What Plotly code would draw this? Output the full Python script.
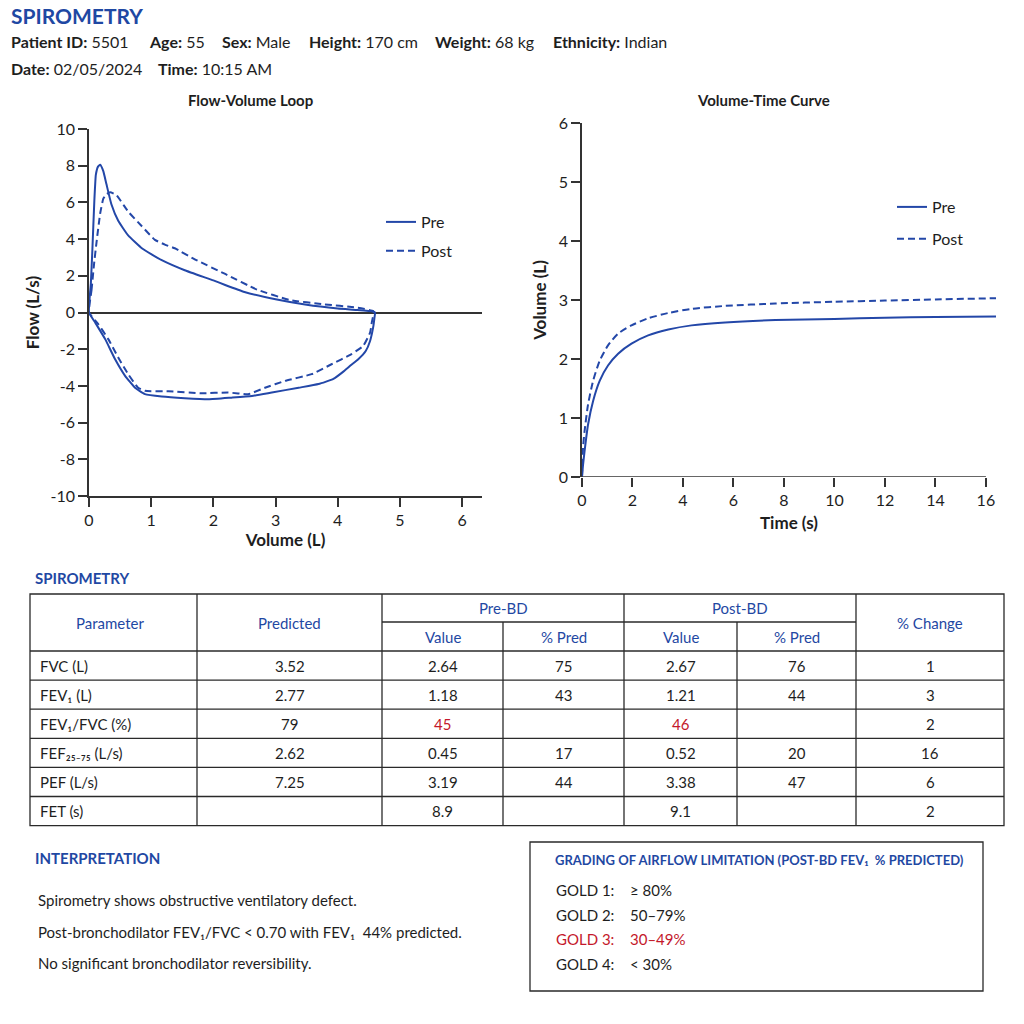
import plotly.graph_objects as go

# ---------------- DATA ----------------
# Flow-volume loop (volume L, flow L/s): expiratory limb, then inspiratory limb back to 0
fv_pre_vol = [0, 0.03, 0.054, 0.086, 0.11, 0.145, 0.18, 0.23, 0.28, 0.36, 0.47, 0.63, 0.85, 1.0, 1.17, 1.54,
              2.0, 2.19, 2.5, 3.0, 3.5, 4.0, 4.3, 4.57, 4.6,
              4.59, 4.57, 4.52, 4.45, 4.33, 4.22, 4.08, 3.93, 3.69, 3.37, 2.94, 2.62, 2.29, 1.92, 1.54, 1.17,
              0.9, 0.74, 0.58, 0.42, 0.26, 0.1, 0]
fv_pre_flow = [0, 1.6, 3.4, 6.1, 7.5, 7.95, 8.05, 7.7, 7.0, 5.9, 5.0, 4.2, 3.5, 3.18, 2.85, 2.3,
               1.75, 1.5, 1.12, 0.72, 0.42, 0.22, 0.14, 0.05, 0.0,
               -0.3, -0.8, -1.55, -2.1, -2.55, -2.85, -3.25, -3.62, -3.9, -4.1, -4.36, -4.55, -4.64, -4.73,
               -4.67, -4.58, -4.45, -4.1, -3.45, -2.55, -1.45, -0.55, 0]
fv_post_vol = [0, 0.04, 0.08, 0.12, 0.18, 0.23, 0.28, 0.34, 0.44, 0.63, 0.85, 1.06, 1.22, 1.38, 1.7, 2.19,
               2.7, 3.23, 3.77, 4.3, 4.57, 4.58,
               4.55, 4.52, 4.41, 4.22, 3.9, 3.58, 3.15, 2.83, 2.56, 2.24, 1.81, 1.28, 0.9, 0.79, 0.63, 0.47,
               0.31, 0.15, 0]
fv_post_flow = [0, 1.2, 2.6, 3.8, 5.4, 6.2, 6.45, 6.55, 6.4, 5.5, 4.7, 3.96, 3.7, 3.5, 2.9, 2.1,
                1.25, 0.68, 0.45, 0.27, 0.08, 0.0,
                -0.5, -1.1, -1.82, -2.27, -2.82, -3.36, -3.73, -4.1, -4.45, -4.36, -4.4, -4.29, -4.27, -4.1,
                -3.36, -2.45, -1.45, -0.64, 0]

# Volume-time curve (time s, volume L)
vt_time = [0, 0.04, 0.1, 0.24, 0.44, 0.7, 1.03, 1.43, 1.96, 2.62, 3.42, 4.34, 5.67, 7.66, 10, 12, 14, 16.4]
vt_pre = [0, 0.2, 0.43, 0.89, 1.29, 1.63, 1.89, 2.09, 2.26, 2.4, 2.5, 2.57, 2.62, 2.66, 2.68, 2.70, 2.71, 2.72]
vt_post = [0, 0.49, 0.77, 1.23, 1.63, 1.97, 2.23, 2.43, 2.57, 2.69, 2.78, 2.85, 2.9, 2.94, 2.97, 2.99, 3.01, 3.03]

fv_x_ticks = [0, 1, 2, 3, 4, 5, 6]
fv_y_ticks = [-10, -8, -6, -4, -2, 0, 2, 4, 6, 8, 10]
vt_x_ticks = [0, 2, 4, 6, 8, 10, 12, 14, 16]
vt_y_ticks = [0, 1, 2, 3, 4, 5, 6]

# Patient info
patient_fields = [("Patient ID:", "5501"), ("Age:", "55"), ("Sex:", "Male"),
                  ("Height:", "170 cm"), ("Weight:", "68 kg"), ("Ethnicity:", "Indian")]
session_fields = [("Date:", "02/05/2024"), ("Time:", "10:15 AM")]

# Results table
parameters = ["FVC (L)", "FEV₁ (L)", "FEV₁/FVC (%)", "FEF₂₅₋₇₅ (L/s)", "PEF (L/s)", "FET (s)"]
predicted = ["3.52", "2.77", "79", "2.62", "7.25", ""]
pre_value = ["2.64", "1.18", "45", "0.45", "3.19", "8.9"]
pre_pct = ["75", "43", "", "17", "44", ""]
post_value = ["2.67", "1.21", "46", "0.52", "3.38", "9.1"]
post_pct = ["76", "44", "", "20", "47", ""]
pct_change = ["1", "3", "2", "16", "6", "2"]
highlight_param = "FEV₁/FVC (%)"

interpretation = ["Spirometry shows obstructive ventilatory defect.",
                  "Post-bronchodilator FEV₁/FVC < 0.70 with FEV₁  44% predicted.",
                  "No significant bronchodilator reversibility."]

gold_labels = ["GOLD 1:", "GOLD 2:", "GOLD 3:", "GOLD 4:"]
gold_ranges = ["≥ 80%", "50–79%", "30–49%", "< 30%"]
gold_current = "GOLD 3:"

# ---------------- STYLE ----------------
BLUE = "#1f48a3"
LINE = "#2347a8"
RED = "#c4182b"
TXT = "#1e1e1e"
AX = "#333333"
FONT = "Lato, 'Noto Sans', sans-serif"
W = H = 1024


def px(x):
    return x / W


def py(y):
    return 1 - y / H


fig = go.Figure()

fig.add_trace(go.Scatter(x=fv_pre_vol, y=fv_pre_flow, mode="lines", name="Pre",
                         line=dict(color=LINE, width=2, shape="spline", smoothing=0.4),
                         xaxis="x", yaxis="y", legend="legend", legendgroup="a"))
fig.add_trace(go.Scatter(x=fv_post_vol, y=fv_post_flow, mode="lines", name="Post",
                         line=dict(color=LINE, width=2, dash="7px,4px", shape="spline", smoothing=0.4),
                         xaxis="x", yaxis="y", legend="legend", legendgroup="b"))
fig.add_trace(go.Scatter(x=vt_time, y=vt_pre, mode="lines", name="Pre",
                         line=dict(color=LINE, width=2, shape="spline", smoothing=0.6),
                         xaxis="x2", yaxis="y2", legend="legend2", legendgroup="c"))
fig.add_trace(go.Scatter(x=vt_time, y=vt_post, mode="lines", name="Post",
                         line=dict(color=LINE, width=2, dash="7px,4px", shape="spline", smoothing=0.6),
                         xaxis="x2", yaxis="y2", legend="legend2", legendgroup="d"))

axis_common = dict(showgrid=False, showline=True, linecolor=AX, linewidth=1.5, automargin=False,
                   ticks="outside", ticklen=9, tickwidth=1.5, tickcolor=AX,
                   tickfont=dict(size=16, color=TXT, family=FONT), zeroline=False)
title_font = dict(size=17, color=TXT, family=FONT)

fig.update_layout(
    width=W, height=H, margin=dict(l=0, r=0, t=0, b=0, pad=0, autoexpand=False),
    paper_bgcolor="white", plot_bgcolor="white",
    font=dict(family=FONT, color=TXT),
    xaxis=dict(domain=[px(89), px(482)], range=[0, 6.32], anchor="y",
               tickvals=fv_x_ticks, ticktext=[str(v) for v in fv_x_ticks],
               title=dict(text="<b>Volume (L)</b>", font=title_font, standoff=6), **axis_common),
    yaxis=dict(domain=[py(496), py(129)], range=[-10, 10], anchor="x",
               tickvals=fv_y_ticks, ticktext=[str(v) for v in fv_y_ticks],
               title=dict(text="<b>Flow (L/s)</b>", font=title_font, standoff=7),
               **{**axis_common, "zeroline": True, "zerolinecolor": AX, "zerolinewidth": 1.5}),
    xaxis2=dict(domain=[px(582), px(996)], range=[0, 16.4], anchor="y2",
                tickvals=vt_x_ticks, ticktext=[str(v) for v in vt_x_ticks],
                title=dict(text="<b>Time (s)</b>", font=title_font, standoff=8),
                **{**axis_common, "showline": False}),
    yaxis2=dict(domain=[py(477), py(123)], range=[0, 6], anchor="x2",
                tickvals=vt_y_ticks, ticktext=[str(v) for v in vt_y_ticks],
                title=dict(text="<b>Volume (L)</b>", font=title_font, standoff=8), **axis_common),
    legend=dict(x=px(381), y=py(205), xanchor="left", yanchor="top", tracegroupgap=5,
                font=dict(size=16, color=TXT), bgcolor="rgba(0,0,0,0)"),
    legend2=dict(x=px(892), y=py(190), xanchor="left", yanchor="top", tracegroupgap=8,
                 font=dict(size=16, color=TXT), bgcolor="rgba(0,0,0,0)"),
    showlegend=True,
)

shapes = []
shapes.append(dict(type="line", xref="x2", yref="y2", x0=0, x1=vt_x_ticks[-1], y0=0, y1=0,
                   line=dict(color=AX, width=1.5)))

ann = []


def text(x, y, s, size=15, color=TXT, anchor="left", bold=False):
    ann.append(dict(xref="paper", yref="paper", x=px(x), y=py(y), text=(f"<b>{s}</b>" if bold else s),
                    showarrow=False, xanchor=anchor, yanchor="middle",
                    font=dict(size=size, color=color, family=FONT)))


# Header
text(9, 15, "SPIROMETRY", size=21, color=BLUE, bold=True)
field_x = [9, 147, 220, 307, 433, 551]
for (k, v), xx in zip(patient_fields, field_x):
    text(xx, 41, f"<b>{k}</b> {v}", size=16)
for (k, v), xx in zip(session_fields, [9, 156]):
    text(xx, 68, f"<b>{k}</b> {v}", size=16)

# Chart titles
text(250, 100, "Flow-Volume Loop", size=15, bold=True, anchor="center")
text(763, 100, "Volume-Time Curve", size=15, bold=True, anchor="center")

# Table
text(33, 578, "SPIROMETRY", size=15, color=BLUE, bold=True)
col_edges = [30, 197, 382, 503, 624, 737, 856, 1004]
top, sub, head_bot = 594, 622, 651
row_h = 29.1
n_rows = len(parameters)
bottom = head_bot + row_h * n_rows
lw = dict(color="#2a2a2a", width=1.3)
shapes.append(dict(type="rect", xref="paper", yref="paper", x0=px(col_edges[0]), x1=px(col_edges[-1]),
                   y0=py(bottom), y1=py(top), line=lw))
for i in range(n_rows):
    yy = head_bot + row_h * i
    shapes.append(dict(type="line", xref="paper", yref="paper", x0=px(col_edges[0]), x1=px(col_edges[-1]),
                       y0=py(yy), y1=py(yy), line=lw))
shapes.append(dict(type="line", xref="paper", yref="paper", x0=px(col_edges[2]), x1=px(col_edges[6]),
                   y0=py(sub), y1=py(sub), line=lw))
for i, cx in enumerate(col_edges[1:-1], start=1):
    y_start = sub if i in (3, 5) else top
    shapes.append(dict(type="line", xref="paper", yref="paper", x0=px(cx), x1=px(cx),
                       y0=py(y_start), y1=py(bottom), line=lw))


def mid(a, b):
    return (col_edges[a] + col_edges[b]) / 2


hmid = (top + head_bot) / 2
text(mid(0, 1) - 4, hmid, "Parameter", color=BLUE, anchor="center")
text(mid(1, 2), hmid, "Predicted", color=BLUE, anchor="center")
text(mid(2, 4), (top + sub) / 2, "Pre-BD", color=BLUE, anchor="center")
text(mid(4, 6), (top + sub) / 2, "Post-BD", color=BLUE, anchor="center")
text(mid(6, 7), hmid, "% Change", color=BLUE, anchor="center")
for a in (2, 4):
    text(mid(a, a + 1), (sub + head_bot) / 2, "Value", color=BLUE, anchor="center")
    text(mid(a + 1, a + 2), (sub + head_bot) / 2, "% Pred", color=BLUE, anchor="center")

columns = [predicted, pre_value, pre_pct, post_value, post_pct, pct_change]
for r, p in enumerate(parameters):
    yy = head_bot + row_h * (r + 0.5)
    text(col_edges[0] + 8, yy, p)
    for c, col in enumerate(columns, start=1):
        val = col[r]
        if not val:
            continue
        color = RED if (p == highlight_param and c in (2, 4)) else TXT
        text(mid(c, c + 1), yy, val, color=color, anchor="center")

# Interpretation
text(33, 858, "INTERPRETATION", size=15, color=BLUE, bold=True)
for i, line in enumerate(interpretation):
    text(36, 900 + i * 31.5, line, size=15)

# Grading box
shapes.append(dict(type="rect", xref="paper", yref="paper", x0=px(530), x1=px(983), y0=py(991), y1=py(842),
                   line=dict(color="#2a2a2a", width=1.3)))
text(759, 860, "GRADING OF AIRFLOW LIMITATION (POST-BD FEV₁  % PREDICTED)", size=13,
     color=BLUE, bold=True, anchor="center")
for i, (g, rng) in enumerate(zip(gold_labels, gold_ranges)):
    yy = 890 + i * 24.5
    col = RED if g == gold_current else TXT
    text(554, yy, g, size=15, color=col)
    text(628, yy, rng, size=15, color=col)

fig.update_layout(shapes=shapes, annotations=ann)
fig.write_html("out.html")
